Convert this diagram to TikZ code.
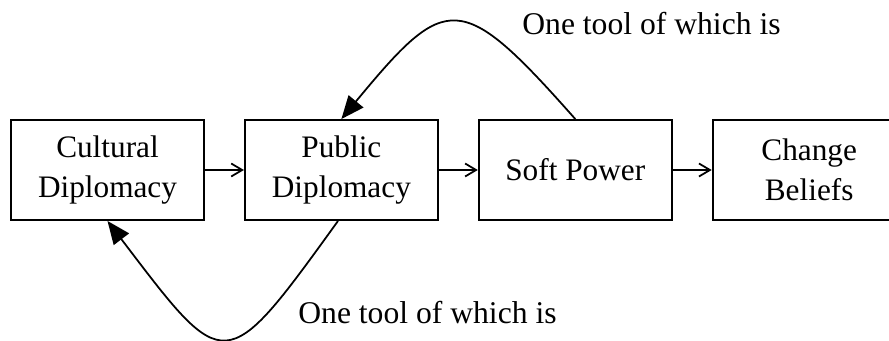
\documentclass[tikz,border=0pt]{standalone}
\usepackage{fontspec}
\setmainfont{Liberation Serif}
\usetikzlibrary{arrows.meta,positioning}
\tikzset{
  stage/.style={draw,line width=1.1pt,minimum width=3.86cm,minimum height=2cm,
    align=center,font=\fontsize{17.8}{22.5}\selectfont,inner sep=0pt},
  flow/.style={line width=1pt,-{Straight Barb[length=0.22cm,width=0.26cm,line width=1pt]}},
  loop/.style={line width=1pt,-{Triangle[length=0.46cm,width=0.38cm]}},
  tool/.style={font=\fontsize{18}{21}\selectfont,inner sep=0pt}
}
\begin{document}
\begin{tikzpicture}[x=0.02cm,y=-0.02cm]
      \useasboundingbox (0,0) rectangle (889,341);
      \def\gap{0.78cm}

      \node[stage] (cd) at (107.5,170) {Cultural\\Diplomacy};
      \node[stage, right=\gap of cd] (pd) {Public\\Diplomacy};
      \node[stage, right=\gap of pd] (sp) {Soft Power};
      \node[stage, right=\gap of sp] (cb) {Change\\Beliefs};

      \draw[flow] (cd) -- (pd);
      \draw[flow] (pd) -- (sp);
      \draw[flow] (sp) -- (cb);

      % the two loops back
      \draw[loop] (sp.north) .. controls +(-115,-130) and +(105,-127) .. (pd.north);
      \draw[loop] (pd.south -| 338,0) .. controls +(-114,158) and +(118,155) .. (cd.south);

      \node[tool, anchor=west] (upper) at (522,24) {One tool of which is};
      \node[tool, anchor=west] (lower) at (298,313) {One tool of which is};
    \end{tikzpicture}
\end{document}
